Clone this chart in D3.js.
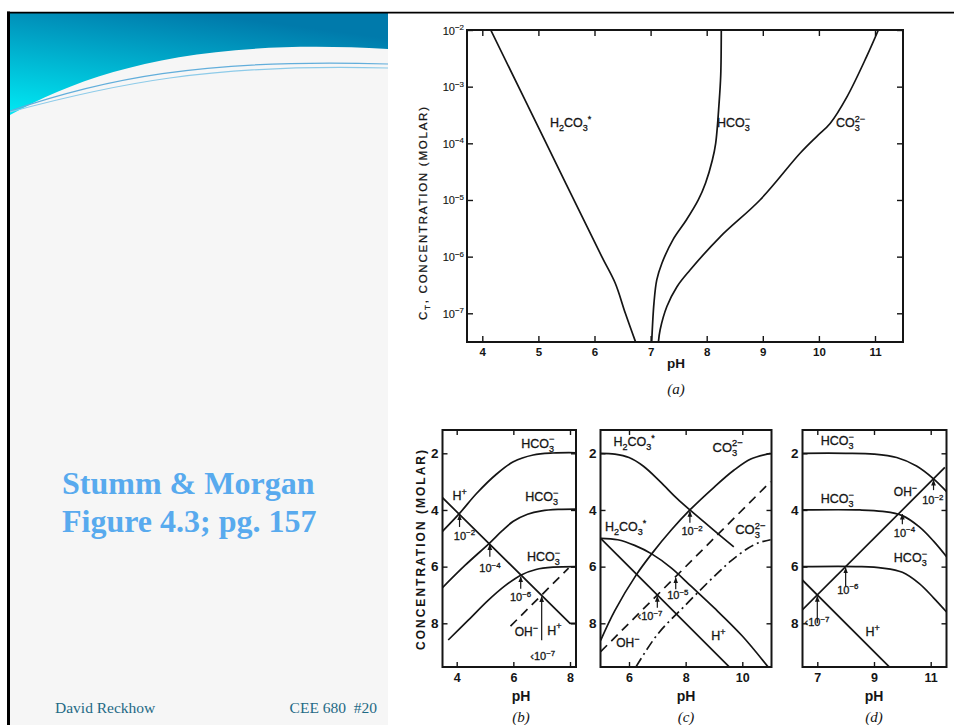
<!DOCTYPE html>
<html>
<head>
<meta charset="utf-8">
<script src="https://cdn.jsdelivr.net/npm/d3@7"></script>
<style>
body { margin: 0; background: #fff; }
svg { display: block; }
</style>
</head>
<body>
<div class="slide"></div>
<script>

// ---- panel (a): C_T (log10 molar) vs pH ----
var phTicksA = [4, 5, 6, 7, 8, 9, 10, 11];
var expTicksA = [-7, -6, -5, -4, -3, -2];
var h2co3A = [[4.15,-2],[5.14,-4],[6.13,-6],[6.37,-6.47],[6.55,-7.0],[6.73,-7.5]];
var hco3A = [[7.02,-7.5],[7.06,-6.82],[7.11,-6.41],[7.2,-6.12],[7.4,-5.7],[7.64,-5.35],[7.85,-5.0],[7.98,-4.7],[8.1,-4.3],[8.16,-4.0],[8.22,-3.3],[8.25,-2.8],[8.26,-2]];
var co3A = [[7.14,-7.5],[7.17,-7.29],[7.29,-6.88],[7.47,-6.53],[7.7,-6.24],[8.24,-5.65],[8.95,-5.0],[9.66,-4.18],[9.96,-3.88],[10.2,-3.65],[10.5,-3.18],[10.85,-2.47],[11.06,-2]];

// ---- panels (b)(c)(d): -log concentration vs pH ----
var pTicks = [2, 4, 6, 8];

// (b) bicarbonate solutions, C_T = 1e-2, 1e-4, 1e-6
var phTicksB = [4, 6, 8];
var hco3B2 = [[3.48,4.77],[4.1,4.12],[4.7,3.42],[5.4,2.74],[6.0,2.3],[6.7,2.06],[7.4,1.99],[8.2,1.98]];
var hco3B4 = [[3.48,6.76],[4.3,5.95],[5.17,5.16],[5.6,4.74],[6.0,4.4],[6.5,4.15],[7.0,4.03],[7.6,3.98],[8.2,3.97]];
var hco3B6 = [[3.7,8.59],[4.4,7.9],[5.1,7.2],[5.7,6.68],[6.26,6.3],[6.8,6.1],[7.4,6.02],[8.2,6.0]];
var hB = [[3.48,3.55],[8.0,8.0],[8.2,8.0]];
var ohB = [[5.9,8.1],[7.95,6.05]];

// (c) CO2 + strong base, C_T = 1e-2 and 1e-5
var phTicksC = [6, 8, 10];
var h2co3C2 = [[5.0,2.0],[5.5,2.03],[6.0,2.15],[6.5,2.45],[7.1,3.0],[7.7,3.6],[8.15,4.0],[9.0,4.72],[9.7,5.3]];
var co3C2 = [[5.0,8.6],[5.5,7.55],[6.25,6.3],[6.8,5.55],[7.5,4.7],[8.15,4.0],[9.0,3.2],[9.7,2.6],[10.3,2.2],[11.0,2.0]];
var h2co3C5 = [[5.0,5.0],[5.6,5.05],[6.2,5.25],[6.8,5.55],[7.5,6.05],[8.2,6.7],[9.0,7.45],[10.0,8.45],[10.9,9.53]];
var co3C5 = [[6.25,9.53],[7.0,8.4],[8.0,7.35],[9.0,6.35],[9.6,5.8],[10.2,5.35],[10.6,5.15],[11.0,5.05]];
var hC = [[5.0,5.0],[9.53,9.53]];
var ohC = [[5.0,9.0],[11.0,3.0]];

// (d) CO2 + strong acid, C_T = 1e-2, 1e-4, 1e-6
var phTicksD = [7, 9, 11];
var hco3D2 = [[6.47,2.0],[8.0,2.0],[9.0,2.03],[9.8,2.15],[10.5,2.45],[11.1,2.9],[11.56,3.35]];
var hco3D4 = [[6.47,4.0],[8.5,4.0],[9.3,4.05],[10.0,4.2],[10.6,4.6],[11.1,5.1],[11.56,5.65]];
var hco3D6 = [[6.47,6.0],[8.5,6.0],[9.3,6.05],[10.0,6.2],[10.6,6.6],[11.1,7.1],[11.56,7.6]];
var hD = [[6.47,6.47],[9.53,9.53]];
var ohD = [[6.47,7.53],[11.5,2.5]];

var W = 954, H = 725;
var ink = "#151515";

var svg = d3.select("div.slide").append("svg")
  .attr("width", W).attr("height", H)
  .style("font-family", "'Liberation Sans', Arial, sans-serif");

var defs = svg.append("defs");
var grad = defs.append("linearGradient").attr("id", "hdr")
  .attr("x1", 0).attr("y1", 1).attr("x2", 0.5).attr("y2", 0);
grad.append("stop").attr("offset", 0).attr("stop-color", "#00eaf4");
grad.append("stop").attr("offset", 1).attr("stop-color", "#007aab");

defs.append("marker").attr("id", "arr")
  .attr("viewBox", "0 0 10 10").attr("refX", 9).attr("refY", 5)
  .attr("markerWidth", 5).attr("markerHeight", 5).attr("orient", "auto")
  .append("path").attr("d", "M0,1L10,5L0,9Z").attr("fill", ink);

// ---- slide chrome ----
svg.append("rect").attr("x", 10).attr("y", 13).attr("width", 378).attr("height", 712).attr("fill", "#f6f6f6");
svg.append("path").attr("d", "M10,13H388V49C200,38 90,70 10,115Z").attr("fill", "url(#hdr)");
svg.append("path").attr("d", "M10,111C100,80 200,58 388,64").attr("fill", "none").attr("stroke", "#62aedb").attr("stroke-width", 1.2);
svg.append("path").attr("d", "M10,112C110,85 210,63 388,68").attr("fill", "none").attr("stroke", "#8dcbe9").attr("stroke-width", 1.2);
svg.append("line").attr("x1", 8.5).attr("y1", 11.5).attr("x2", 8.5).attr("y2", H).attr("stroke", "#000").attr("stroke-width", 3);
svg.append("line").attr("x1", 7).attr("y1", 12.6).attr("x2", W).attr("y2", 12.6).attr("stroke", "#000").attr("stroke-width", 1.8);

var serif = "'Liberation Serif', 'Times New Roman', serif";
svg.append("text").attr("x", 62).attr("y", 494).text("Stumm & Morgan")
  .attr("font-family", serif).attr("font-weight", "bold").attr("font-size", 32).attr("fill", "#58aaee");
svg.append("text").attr("x", 62).attr("y", 532).text("Figure 4.3; pg. 157")
  .attr("font-family", serif).attr("font-weight", "bold").attr("font-size", 32).attr("fill", "#58aaee");
svg.append("text").attr("x", 55).attr("y", 713).text("David Reckhow")
  .attr("font-family", serif).attr("font-size", 15.5).attr("fill", "#1e6985");
svg.append("text").attr("x", 377).attr("y", 713).attr("text-anchor", "end").style("white-space", "pre").text("CEE 680  #20")
  .attr("font-family", serif).attr("font-size", 15.5).attr("fill", "#1e6985");

// ---- helpers ----
function chem(g, x, y, parts, size, anchor) {
  var t = g.append("text").attr("x", x).attr("y", y).attr("font-size", size).attr("fill", ink)
    .attr("stroke", ink).attr("stroke-width", 0.3);
  if (anchor) t.attr("text-anchor", anchor);
  var cur = 0;
  parts.forEach(function(p) {
    var mode = p[1] || "";
    var target = mode == "sub" ? size * 0.32 : (mode == "sup" ? -size * 0.42 : 0);
    var ts = t.append("tspan").text(p[0]).attr("dy", target - cur);
    if (p[2]) ts.attr("dx", p[2] * size);
    if (mode) ts.attr("font-size", size * 0.72);
    cur = target;
  });
  return t;
}
var H2CO3 = [["H"],["2","sub"],["CO"],["3","sub"],["*","sup"]];
var HCO3 = [["HCO"],["3","sub"],["−","sup",-0.4]];
var CO3 = [["CO"],["3","sub"],["2−","sup",-0.4]];
var Hp = [["H"],["+","sup"]];
var OHm = [["OH"],["−","sup"]];
function pow(e, pre) { return [[(pre || "") + "10"], [e, "sup"]]; }

function curve(g, data, x, y, style) {
  var line = d3.line().x(function(d) { return x(d[0]); }).y(function(d) { return y(d[1]); })
    .curve(data.length > 3 ? d3.curveCatmullRom.alpha(0.5) : d3.curveLinear);
  var p = g.append("path").attr("d", line(data)).attr("fill", "none")
    .attr("stroke", ink).attr("stroke-width", 1.7).attr("stroke-linejoin", "round");
  if (style == "dash") p.attr("stroke-dasharray", "9,6");
  if (style == "dashdot") p.attr("stroke-dasharray", "10,4,2,4");
}

function arrow(g, x, y, ph, pFrom, pTo) {
  g.append("line").attr("x1", x(ph)).attr("y1", y(pFrom)).attr("x2", x(ph)).attr("y2", y(pTo))
    .attr("stroke", ink).attr("stroke-width", 1.2).attr("marker-end", "url(#arr)");
}

function frame(id, x0, x1, y0, y1) {
  defs.append("clipPath").attr("id", id).append("rect")
    .attr("x", x0).attr("y", y0).attr("width", x1 - x0).attr("height", y1 - y0);
  var g = svg.append("g");
  g.append("rect").attr("x", x0).attr("y", y0).attr("width", x1 - x0).attr("height", y1 - y0)
    .attr("fill", "none").attr("stroke", ink).attr("stroke-width", 2);
  return g;
}

function axes(g, x, y, xt, yt, fr, tick, xfmt, yfmt, xfs, yfs) {
  var bx = g.append("g").attr("transform", "translate(0," + fr[3] + ")")
    .call(d3.axisBottom(x).tickValues(xt).tickSize(-tick).tickPadding(6).tickFormat(xfmt));
  var tx = g.append("g").attr("transform", "translate(0," + fr[2] + ")")
    .call(d3.axisTop(x).tickValues(xt).tickSize(-tick).tickFormat(""));
  var ly = g.append("g").attr("transform", "translate(" + fr[0] + ",0)")
    .call(d3.axisLeft(y).tickValues(yt).tickSize(-tick).tickPadding(4).tickFormat(yfmt));
  var ry = g.append("g").attr("transform", "translate(" + fr[1] + ",0)")
    .call(d3.axisRight(y).tickValues(yt).tickSize(-tick).tickFormat(""));
  [bx, tx, ly, ry].forEach(function(a) {
    a.select(".domain").remove();
    a.selectAll("line").attr("stroke", ink).attr("stroke-width", 1.4);
    a.attr("font-family", null).attr("font-size", null);
  });
  bx.selectAll("text").attr("fill", ink).attr("font-size", xfs).attr("font-weight", "bold");
  ly.selectAll("text").attr("fill", ink).attr("font-size", yfs).attr("font-weight", "bold");
  return ly;
}

// ---- panel (a) ----
var frA = [467, 903, 30, 342];
var xA = d3.scaleLinear().domain([4, 11]).range([482.3, 875]);
var yA = d3.scaleLog().domain([1e-7, 1e-2]).range([313.3, 30]);
function yAlog(v) { return yA(Math.pow(10, v)); }
var gA = frame("clipA", frA[0], frA[1], frA[2], frA[3]);
var lyA = axes(gA, xA, yA, phTicksA, expTicksA.map(function(e) { return Math.pow(10, e); }), frA, 6,
  d3.format("d"), function() { return ""; }, 11.5, 10);
lyA.selectAll(".tick").each(function(d, i) {
  d3.select(this).select("text").remove();
  chem(d3.select(this), -3, 4, pow(String(expTicksA[i]).replace("-", "−")), 11, "end").attr("stroke-width", 0.15);
});
var cA = gA.append("g").attr("clip-path", "url(#clipA)");
curve(cA, h2co3A, xA, yAlog);
curve(cA, hco3A, xA, yAlog);
curve(cA, co3A, xA, yAlog);
chem(gA, 550, 127, H2CO3, 12.5);
chem(gA, 717, 127, HCO3, 12.5);
chem(gA, 836, 127, CO3, 12.5);
var labA = gA.append("text").attr("transform", "translate(427,320) rotate(-90)")
  .attr("font-size", 11.5).attr("fill", ink).attr("stroke", ink).attr("stroke-width", 0.25)
  .attr("textLength", 213).attr("lengthAdjust", "spacing");
labA.append("tspan").text("C");
labA.append("tspan").text("T").attr("font-size", 8).attr("dy", 3);
labA.append("tspan").text(",  CONCENTRATION  (MOLAR)").attr("dy", -3);
gA.append("text").attr("x", 676).attr("y", 368).attr("text-anchor", "middle").attr("font-size", 13.5)
  .attr("font-weight", "bold").attr("fill", ink).text("pH");
gA.append("text").attr("x", 676).attr("y", 394).attr("text-anchor", "middle").attr("font-size", 15)
  .attr("font-style", "italic").attr("font-family", serif).attr("fill", ink).text("(a)");

// ---- shared p scale for (b)(c)(d) ----
var yP = d3.scaleLinear().domain([2, 8]).range([453.3, 623.3]);
var fTop = 430, fBot = 667;

function bottomLabels(g, cx, name) {
  g.append("text").attr("x", cx).attr("y", 701).attr("text-anchor", "middle").attr("font-size", 14)
    .attr("font-weight", "bold").attr("fill", ink).text("pH");
  g.append("text").attr("x", cx).attr("y", 722).attr("text-anchor", "middle").attr("font-size", 15)
    .attr("font-style", "italic").attr("font-family", serif).attr("fill", ink).text(name);
}

// ---- panel (b) ----
var frB = [442.5, 576, fTop, fBot];
var xB = d3.scaleLinear().domain([4, 8]).range([456.7, 570]);
var gB = frame("clipB", frB[0], frB[1], frB[2], frB[3]);
axes(gB, xB, yP, phTicksB, pTicks, frB, 5, d3.format("d"), d3.format("d"), 12.5, 13.5);
var cB = gB.append("g").attr("clip-path", "url(#clipB)");
curve(cB, hco3B2, xB, yP);
curve(cB, hco3B4, xB, yP);
curve(cB, hco3B6, xB, yP);
curve(cB, hB, xB, yP);
curve(cB, ohB, xB, yP, "dash");
chem(gB, xB(6.28), yP(1.8), HCO3, 12.5);
chem(gB, xB(6.42), yP(3.7), HCO3, 12.5);
chem(gB, xB(6.48), yP(5.8), HCO3, 12.5);
chem(gB, xB(3.85), yP(3.65), Hp, 12.5);
chem(gB, xB(3.9), yP(5.05), pow("−2"), 11);
chem(gB, xB(4.8), yP(6.2), pow("−4"), 11);
chem(gB, xB(5.88), yP(7.22), pow("−6"), 11);
chem(gB, xB(6.05), yP(8.45), OHm, 12);
chem(gB, xB(7.2), yP(8.4), Hp, 12.5);
chem(gB, xB(6.6), yP(9.3), pow("−7", "‹"), 11);
arrow(gB, xB, yP, 4.1, 4.6, 4.18);
arrow(gB, xB, yP, 5.17, 5.65, 5.22);
arrow(gB, xB, yP, 6.26, 6.78, 6.36);
arrow(gB, xB, yP, 7.0, 8.6, 7.06);
gB.append("text").attr("transform", "translate(425,650) rotate(-90)")
  .attr("font-size", 12).attr("font-weight", "bold").attr("fill", ink)
  .attr("textLength", 200).attr("lengthAdjust", "spacing").text("CONCENTRATION (MOLAR)");
bottomLabels(gB, 521, "(b)");

// ---- panel (c) ----
var frC = [600.5, 771.5, fTop, fBot];
var xC = d3.scaleLinear().domain([6, 10]).range([629, 742.3]);
var gC = frame("clipC", frC[0], frC[1], frC[2], frC[3]);
axes(gC, xC, yP, phTicksC, pTicks, frC, 5, d3.format("d"), d3.format("d"), 12.5, 13.5);
var cC = gC.append("g").attr("clip-path", "url(#clipC)");
curve(cC, h2co3C2, xC, yP);
curve(cC, co3C2, xC, yP);
curve(cC, h2co3C5, xC, yP);
curve(cC, hC, xC, yP);
curve(cC, ohC, xC, yP, "dash");
curve(cC, co3C5, xC, yP, "dashdot");
chem(gC, xC(5.45), yP(1.75), H2CO3, 12.5);
chem(gC, xC(8.95), yP(1.95), CO3, 13);
chem(gC, xC(5.15), yP(4.75), H2CO3, 12.5);
chem(gC, xC(9.75), yP(4.85), CO3, 13);
chem(gC, xC(7.85), yP(4.9), pow("−2"), 11);
chem(gC, xC(7.35), yP(7.15), pow("−5"), 11);
chem(gC, xC(6.3), yP(7.9), pow("−7", "‹"), 11);
chem(gC, xC(5.55), yP(8.85), OHm, 12);
chem(gC, xC(8.9), yP(8.6), Hp, 12.5);
arrow(gC, xC, yP, 8.15, 4.45, 4.05);
arrow(gC, xC, yP, 7.65, 6.8, 6.4);
arrow(gC, xC, yP, 7.0, 7.45, 7.05);
bottomLabels(gC, 686, "(c)");

// ---- panel (d) ----
var frD = [802.5, 946.5, fTop, fBot];
var xD = d3.scaleLinear().domain([7, 11]).range([817.3, 930.7]);
var gD = frame("clipD", frD[0], frD[1], frD[2], frD[3]);
axes(gD, xD, yP, phTicksD, pTicks, frD, 5, d3.format("d"), d3.format("d"), 12.5, 13.5);
var cD = gD.append("g").attr("clip-path", "url(#clipD)");
curve(cD, hco3D2, xD, yP);
curve(cD, hco3D4, xD, yP);
curve(cD, hco3D6, xD, yP);
curve(cD, hD, xD, yP);
curve(cD, ohD, xD, yP);
chem(gD, xD(7.12), yP(1.7), HCO3, 12.5);
chem(gD, xD(7.12), yP(3.75), HCO3, 12.5);
chem(gD, xD(9.7), yP(5.85), HCO3, 12.5);
chem(gD, xD(9.7), yP(3.5), OHm, 12);
chem(gD, xD(10.7), yP(3.8), pow("−2"), 11);
chem(gD, xD(9.7), yP(4.95), pow("−4"), 11);
chem(gD, xD(7.7), yP(6.95), pow("−6"), 11);
chem(gD, xD(6.55), yP(8.1), pow("−7", "‹"), 11);
chem(gD, xD(8.7), yP(8.45), Hp, 12.5);
arrow(gD, xD, yP, 11.1, 3.3, 2.95);
arrow(gD, xD, yP, 10.0, 4.5, 4.15);
arrow(gD, xD, yP, 8.0, 6.7, 6.05);
arrow(gD, xD, yP, 7.0, 8.0, 7.05);
bottomLabels(gD, 874, "(d)");

</script>
</body>
</html>
